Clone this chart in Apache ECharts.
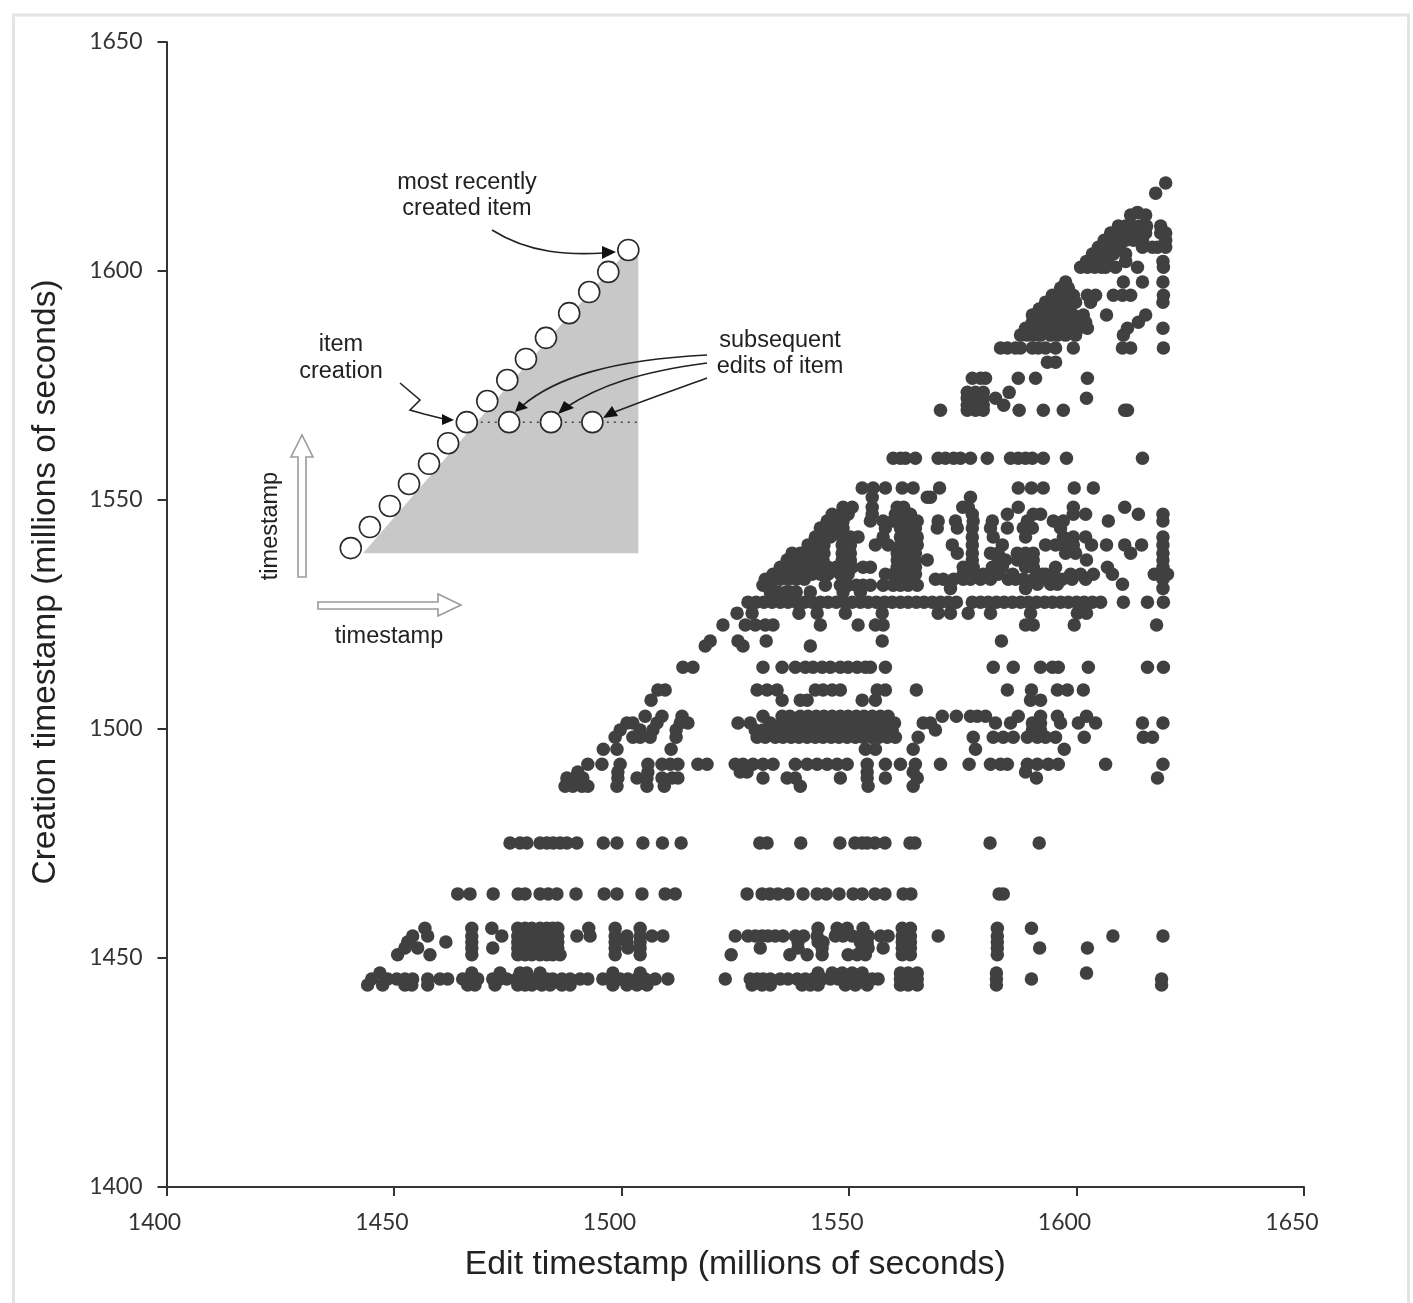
<!DOCTYPE html>
<html><head><meta charset="utf-8">
<style>html,body{margin:0;padding:0;background:#fff}#c{width:1413px;height:1303px}</style>
<script src="https://cdn.jsdelivr.net/npm/echarts@6/dist/echarts.min.js"></script>
</head><body><div id="c"></div>
<script>
const axisTicks = [1400,1450,1500,1550,1600,1650];
const xTitle = 'Edit timestamp (millions of seconds)';
const yTitle = 'Creation timestamp (millions of seconds)';

// Creation level of each row, and the edit timestamps seen at that level.
const creationLevels = [1475.1,1464,1456.5,1454.8,1453.5,1452.2,1450.7,1446.7,1445.4,1444.1,
 1513.5,1508.5,1506.3,1502.8,1501.3,1499.8,1498.2,1495.6,1492.3,1490.6,1489.3,1487.5,
 1527.7,1525.3,1522.7,1519.2,1518.1,1552.6,1550.6,1548.4,1546.9,1545.4,1543.9,1541.9,1540.2,1538.4,1536.9,1535.3,1533.8,1532.7,1531.6,1531.4,1530.7,1529.9,1559.1,
 1619.2,1617,1612.8,1612.2,1609.8,1608.3,1606.7,1605.2,1603.7,1602.1,1600.8,1597.6,1596.3,1594.7,1593.2,1591.7,1590.4,1588.8,1587.5,1586,1583.2,1580.1,1576.6,1573.5,1572.2,1570.7,1569.6];
const e1475=[1475.5,1477.7,1479.2,1482.1,1483.6,1485,1486.5,1488,1490.2,1496,1499,1504.7,1509,1513.1,1530.4,1532,1539.4,1548,1551.3,1552.9,1554,1555.7,1557.9,1563.4,1564.5,1581,1591.8];
const e1464=[1464,1466.7,1471.8,1477.3,1478.8,1482.1,1483.9,1485.8,1490,1496.2,1499,1504.5,1509.6,1511.8,1527.6,1530.9,1532.6,1534.4,1536.6,1539.9,1543,1545,1547.8,1550.9,1552.9,1555.7,1557.9,1561.9,1563.6,1583,1583.9];
const e1456=[1456.8,1467.1,1471.5,1477.2,1478.8,1480.3,1482.1,1483.6,1484.9,1486,1492.8,1498.6,1504.1,1543.2,1547.4,1549.6,1553.1,1561.7,1563.5,1582.6,1590.1];
const e1454=[1457.4,1454.1,1467.1,1473.7,1477.2,1478.8,1480.3,1482.1,1483.6,1484.9,1486,1490.2,1493.1,1498.6,1501.2,1504.1,1506.7,1509.1,1525,1527.8,1529.4,1530.9,1532.2,1533.8,1535.5,1538.2,1540,1543,1547,1548.7,1550.7,1552.5,1554.2,1556.9,1558.6,1561.7,1563.5,1569.6,1582.6,1608,1619];
const e1453=[1453,1461.4,1467.1,1477.2,1478.8,1480.3,1482.1,1483.6,1484.9,1486,1498.6,1501.2,1504.1,1538.8,1543.2,1544.3,1552.5,1554,1561.7,1563.5,1582.6];
const e1452=[1455.2,1452.4,1467.1,1471.7,1477.2,1478.8,1480.3,1482.1,1483.6,1484.9,1486,1498.6,1501.4,1504.1,1530.5,1538.8,1544.1,1552.9,1554.2,1557.5,1561.7,1563.5,1582.6,1591.9,1602.4];
const e1450=[1450.8,1457.9,1467.1,1477.2,1478.8,1480.3,1482.1,1483.6,1484.9,1486.5,1498.6,1504.1,1524.1,1537,1540.8,1544.1,1549.8,1551.8,1553.6,1561.7,1563.5,1582.6];
const e1446=[1446.9,1467.1,1473.3,1477.7,1479.2,1482.1,1498.1,1504.1,1543.2,1546.3,1548.5,1550.7,1552.9,1561.3,1563,1565,1582.4,1602.2];
const e1445=[1445.1,1448.6,1450.6,1452.4,1454.1,1457.4,1460.1,1461.8,1465.1,1467.1,1468.4,1471.7,1473.3,1474.8,1477,1478.3,1479.9,1481.6,1483.6,1484.9,1486.9,1488.7,1490.9,1492.6,1495.9,1497.9,1499.7,1501.4,1503.4,1505.2,1507.4,1510.2,1522.8,1528.3,1529.8,1531.1,1532.7,1534.9,1536.6,1538.6,1540.4,1542.1,1544.1,1545.9,1547.6,1549.6,1551.4,1553.1,1555.1,1556.4,1561.3,1563,1565,1582.4,1590.1,1618.7];
const e1444=[1444.2,1447.5,1452.4,1453.9,1457.4,1466.2,1467.8,1472.2,1477.2,1478.8,1480.3,1482.5,1484.3,1486.9,1488.7,1498.1,1501.2,1503.4,1505.6,1528.7,1530.9,1532.7,1539.7,1541.5,1543.2,1549.2,1551.4,1554,1561.3,1563,1565,1582.4,1618.7];
const e1513=[1513.5,1515.7,1531.1,1535.3,1538.2,1540.4,1542.1,1544.1,1545.9,1548.1,1549.8,1551.8,1553.6,1554.7,1558,1581.7,1586.1,1592.1,1594.7,1596,1602.6,1615.6,1619.1];
const e1508=[1508,1509.6,1529.8,1532,1534.2,1542.6,1544.3,1546.3,1548.1,1556.2,1558,1564.8,1584.8,1590.1,1595.8,1598,1601.5];
const e1506=[1506.5,1535.3,1539.3,1540.8,1552.9,1555.8,1589.9,1592.1];
const e1502=[1505.2,1508.9,1513.3,1531.1,1535.3,1537,1539.3,1541,1542.8,1544.5,1546.3,1548.1,1549.8,1551.6,1553.3,1555.1,1556.9,1558.6,1570.5,1573.6,1576.7,1578.2,1580,1587.2,1592.1,1595.8,1602.2];
const e1501=[1501.2,1502.5,1507.8,1512.9,1514.6,1525.6,1528.3,1532.7,1535.3,1537,1538.8,1540.6,1542.3,1544.1,1545.9,1547.6,1549.4,1551.1,1552.9,1554.7,1556.4,1558.2,1560,1566.3,1567.9,1582.2,1585.5,1590.3,1592.1,1596.5,1600.4,1604.2,1614.5,1619];
const e1499=[1499.7,1504.1,1506.9,1512,1529.4,1531.1,1533.1,1534.9,1536.6,1538.4,1540.2,1541.9,1543.7,1545.4,1547.2,1549,1550.7,1552.5,1554.2,1556,1557.8,1559.5,1569,1590.3,1592.1];
const e1498=[1498.6,1502.5,1504.1,1506.3,1512,1529.8,1531.6,1533.8,1535.5,1537.3,1539,1540.8,1542.6,1544.3,1546.1,1547.8,1549.6,1551.4,1553.1,1554.9,1556.6,1558.4,1560.2,1565.2,1577.3,1581.7,1583.9,1586.1,1589.2,1591.4,1593.2,1595.4,1601.7,1614.7,1616.7];
const e1495=[1496,1499,1510.9,1553.6,1555.8,1564.1,1577.8,1597.3];
const e1492=[1492.6,1495.7,1499.7,1505.8,1508.9,1510.7,1512.4,1516.8,1518.8,1525,1526.7,1528.9,1531.1,1533.3,1538.2,1540.8,1543,1545.2,1547.4,1549.6,1554,1558,1561.3,1564.6,1570.1,1576.4,1581.1,1583.3,1584.8,1589.2,1591.4,1593.8,1596,1606.4,1619];
const e1490=[1490.4,1499.2,1505.8,1526.1,1527.6,1554,1564.1,1588.8];
const e1489=[1488,1489.8,1491.5,1499.2,1503.4,1505.6,1508.9,1511.1,1512.4,1531.1,1536.4,1538.2,1548.1,1554,1558,1565,1591.2,1617.8];
const e1487=[1487.6,1489.3,1491.3,1492.6,1499,1505.6,1509.4,1539.3,1554.2,1564.1];
const e1527=[1527.8,1529.6,1531.3,1533.1,1534.9,1536.6,1538.4,1540.2,1541.9,1543.7,1545.4,1547.2,1549,1550.7,1552.5,1554.2,1556,1557.8,1559.5,1561.3,1563,1564.8,1566.5,1568.3,1570.1,1571.8,1573.6,1577.1,1578.9,1580.6,1582.4,1584.1,1585.9,1587.7,1589.4,1591.2,1593,1594.7,1596.5,1598.2,1600,1601.7,1603.5,1605.3,1610.3,1615.6,1619.1];
const e1525=[1525.4,1528.7,1539,1543,1549.2,1557.3,1569.6,1572.3,1576.2,1581.1,1589.9,1600.2,1602.2];
const e1522=[1522.3,1527.2,1529.4,1531.6,1533.3,1543.7,1552,1555.8,1557.5,1588.8,1590.5,1599.5,1617.6];
const e1519=[1519.5,1525.6,1531.8,1557.3,1583.5];
const e1518=[1518.4,1526.7,1541.5];
const e1552=[1552.9,1555.3,1558,1561.7,1564.1,1569.9,1587.2,1590.1,1592.7,1599.5,1603.7];
const e1550=[1555.1,1567.2,1567.9,1576.7];
const e1548=[1548.7,1550.7,1555.1,1560.6,1562,1575,1576.2,1587.2,1599.3,1610.6];
const e1546=[1546.3,1548.1,1549.8,1555.1,1560.2,1562,1563.5,1577.1,1584.8,1590.5,1592.1,1599.3,1602,1613.6,1619];
const e1545=[1545.2,1547,1548.7,1554.7,1557.5,1559.7,1561.3,1563,1565,1569.6,1573.4,1577.3,1581.5,1589.2,1594.9,1597.1,1607,1619];
const e1543=[1543.7,1545.4,1547.2,1548.7,1558,1561.3,1563,1564.6,1569.4,1573.8,1577.1,1581.1,1584.8,1588.3,1590.3,1596.5];
const e1541=[1542.6,1544.1,1545.9,1548.5,1550.3,1552,1557.5,1561.3,1563,1565,1577.1,1581.7,1588.8,1597.1,1599.3,1602,1619];
const e1540=[1541,1542.8,1544.5,1548.5,1550.3,1555.8,1558.6,1561.3,1563,1565,1572.7,1577.1,1583.7,1619,1593.2,1595.4,1597.1,1599.3,1603.3,1606.6,1610.6,1614.3];
const e1538=[1537.5,1539.3,1541,1542.8,1544.5,1548.5,1550.3,1560.6,1562.4,1564.6,1573.8,1577.1,1581.1,1582.8,1587,1588.8,1590.5,1597.6,1599.8,1611.9,1619];
const e1536=[1536.4,1537.9,1539.3,1541,1542.6,1544.3,1548.5,1550.3,1560.6,1562.4,1564.6,1567.2,1577.1,1582.8,1584.4,1587,1588.8,1590.5,1602.2,1619];
const e1535=[1534.9,1536.6,1538.4,1540.2,1541.9,1543.7,1545.4,1547.2,1549.2,1550.7,1553.1,1554.7,1560.6,1562.4,1564.6,1575.1,1577.3,1581.5,1583.7,1588.8,1590.5,1595.4,1606.8,1619];
const e1533=[1533.3,1534.9,1536.6,1538.4,1540.2,1541.9,1543.7,1545.4,1548.1,1549.8,1558,1559.7,1561.3,1563,1564.6,1575.1,1577.1,1579.5,1581.5,1582.8,1586,1592.5,1593.2,1595,1598.7,1600.9,1603.7,1607.9,1617.1,1620];
const e1532=[1531.6,1533.1,1534.9,1536.6,1538.4,1540.2,1569,1570.7,1573,1575.1,1576.7,1578.9,1581.1,1585,1586.6,1588.3,1590.5,1592.1,1596.9,1599,1602,1619];
const e1531b=[1591.4,1594.3,1595.8,1610.1];
const e1531=[1531.1,1532.7,1544.8,1548.1,1549.8,1551.6,1553.1,1554.7,1557.5,1559.7,1561.3,1563,1565];
const e1530=[1572.3,1588.8,1619];
const e1529=[1532.7,1534.4,1536.2,1537.1,1538.4,1541.5,1548.7,1552.5];
const e1559=[1559.7,1561.3,1562.4,1564.6,1569.6,1571.2,1573,1574.5,1576.7,1580.4,1585.5,1587.2,1588.8,1590.3,1592.7,1597.8,1614.5];
const e1619=[1619.6];
const e1617=[1617.4];
const e1612b=[1613.4];
const e1612=[1611.9,1615.2];
const e1609=[1609.2,1610.8,1612.3,1613.8,1615.4,1618.5];
const e1608=[1607.5,1609,1610.5,1612.1,1613.6,1615.2,1618.5,1619.6];
const e1606=[1606.1,1607.7,1609.2,1610.8,1612.5,1614.5,1619.6];
const e1605=[1604.8,1606.4,1607.9,1609.4,1614.5,1616.7,1617.8,1619.6];
const e1603=[1603.5,1605,1606.6,1608.1,1610.8];
const e1602=[1602.2,1603.7,1605.3,1606.8,1610.8,1619];
const e1600=[1600.9,1602.4,1604,1605.5,1606.4,1608.6,1613.4,1619.1];
const e1597=[1597.6,1610.3,1614.5,1619];
const e1596=[1596.5,1598.2];
const e1594=[1594.7,1596.2,1597.8,1599.3,1602.4,1604.2,1608.1,1610.1,1611.9,1619.1];
const e1593=[1593.2,1594.7,1596.5,1598.2,1599.8,1603.1,1619];
const e1591=[1591.8,1593.9,1595.4,1596.9,1598.4];
const e1590=[1590.3,1592.1,1593.8,1595.4,1596.9,1599.3,1601.5,1606.6,1615.2];
const e1588=[1590.3,1592.1,1593.8,1595.8,1598.7,1600.4,1602,1613.6];
const e1587=[1588.8,1590.5,1592.1,1593.8,1595.8,1597.2,1598.7,1600.5,1602.4,1611.2,1619];
const e1586=[1587.7,1589.2,1590.5,1592.1,1594.3,1595.8,1597.6,1599.8,1610.3];
const e1583=[1583.3,1584.8,1586.6,1587.7,1590.3,1591.6,1593.2,1595.4,1599.3,1610.1,1611.9,1619.1];
const e1580=[1593.6,1595.4];
const e1576=[1577.1,1578.9,1580,1587.2,1591,1602.4];
const e1573=[1576,1577.8,1579.5,1585.2];
const e1572=[1576,1577.8,1579.5,1582.2,1602.2];
const e1570=[1576,1577.8,1579.5,1584];
const e1569=[1570.1,1576,1577.8,1579.5,1587.4,1592.7,1597.1,1610.6,1611.2];
const editRows=[e1475,e1464,e1456,e1454,e1453,e1452,e1450,e1446,e1445,e1444,
 e1513,e1508,e1506,e1502,e1501,e1499,e1498,e1495,e1492,e1490,e1489,e1487,
 e1527,e1525,e1522,e1519,e1518,e1552,e1550,e1548,e1546,e1545,e1543,e1541,e1540,e1538,e1536,e1535,e1533,e1532,e1531b,e1531,e1530,e1529,e1559,
 e1619,e1617,e1612b,e1612,e1609,e1608,e1606,e1605,e1603,e1602,e1600,e1597,e1596,e1594,e1593,e1591,e1590,e1588,e1587,e1586,e1583,e1580,e1576,e1573,e1572,e1570,e1569];

// Inset schematic, in the chart's own units.
const insetDiagX=[1440.5,1444.7,1449.1,1453.3,1457.7,1461.9,1466,1470.5,1474.9,1479,1483.4,1488.5,1492.9,1497.1,1501.5];
const insetDiagY=[1539.5,1544.1,1548.7,1553.5,1557.9,1562.4,1567,1571.6,1576.2,1580.8,1585.4,1590.8,1595.4,1599.8,1604.6];
const insetEditX=[1475.3,1484.5,1493.6];
const insetEditY=[1567,1567,1567];
const insetShadeX=[1443.2,1466.7,1487,1501.5,1503.7,1503.7];
const insetShadeY=[1538.4,1565.3,1588.6,1604.6,1603,1538.4];
const insetDottedX=[1466,1503.7];
const insetDottedY=[1567,1567];

const pts=[];
creationLevels.forEach((y,i)=>editRows[i].forEach(x=>pts.push([x,y])));
const zip=(a,b)=>a.map((v,i)=>[v,b[i]]);

const INK='#333';
const arrowStyle={stroke:'#222',lineWidth:1.6,fill:null};
const label=(t,x,y,rot)=>({type:'text',x,y,rotation:rot||0,z:30,style:{text:t,x:0,y:0,fill:'#222',font:'23.5px "Liberation Sans"',align:'center',verticalAlign:'middle'}});
const curve=(x1,y1,c1x,c1y,c2x,c2y,x2,y2)=>({type:'bezierCurve',z:30,shape:{x1,y1,cpx1:c1x,cpy1:c1y,cpx2:c2x,cpy2:c2y,x2,y2},style:arrowStyle});
const head=(pts)=>({type:'polygon',z:30,shape:{points:pts},style:{fill:'#111'}});
const hollow=(pts)=>({type:'polygon',z:30,shape:{points:pts},style:{fill:'#fff',stroke:'#9a9a9a',lineWidth:1.6}});

const chart=echarts.init(document.getElementById('c'),null,{renderer:'canvas'});
chart.setOption({
 animation:false,
 backgroundColor:'#fff',
 grid:{left:166.5,right:109,top:42,bottom:116,containLabel:false},
 xAxis:{type:'value',min:axisTicks[0],max:axisTicks[5],interval:50,
  name:xTitle,nameLocation:'middle',nameGap:61,
  nameTextStyle:{fontFamily:'Liberation Sans',fontSize:33.8,color:'#222'},
  axisLine:{onZero:false,lineStyle:{color:INK,width:2}},
  axisTick:{length:9,lineStyle:{color:INK,width:2}},
  axisLabel:{fontFamily:'Lato',fontSize:23,color:'#333',margin:24,padding:[0,24,0,0],showMinLabel:true,showMaxLabel:true,formatter:v=>String(v)},
  splitLine:{show:false}},
 yAxis:{type:'value',min:axisTicks[0],max:axisTicks[5],interval:50,
  name:yTitle,nameLocation:'middle',nameGap:104,
  nameTextStyle:{fontFamily:'Liberation Sans',fontSize:33.5,color:'#222',padding:[0,0,0,65]},
  axisLine:{onZero:false,lineStyle:{color:INK,width:2}},
  axisTick:{length:9,lineStyle:{color:INK,width:2}},
  axisLabel:{fontFamily:'Lato',fontSize:23,color:'#333',margin:24,showMinLabel:true,showMaxLabel:true,formatter:v=>String(v)},
  splitLine:{show:false}},
 graphic:[
  {type:'rect',z:-10,shape:{x:13.5,y:15,width:1395,height:1300},style:{fill:null,stroke:'#e4e4e4',lineWidth:3}},
  label('most recently',467,183),label('created item',467,209),
  label('item',341,345),label('creation',341,372),
  label('subsequent',780,341),label('edits of item',780,367),
  label('timestamp',271,526,Math.PI/2),label('timestamp',389,637),
  curve(492,230,530,254,570,255,604,253),head([[616,252],[602,246],[602,259]]),
  {type:'polyline',z:30,smooth:0.25,shape:{points:[[400,383],[420,400],[410,410],[424,414],[444,419]]},style:arrowStyle},
  head([[454,420],[442,414],[442,425]]),
  curve(707,355,610,360,555,378,522,406),head([[515,412],[519,401],[528,408]]),
  curve(707,363,640,372,600,385,565,408),head([[558,414],[564,401],[574,408]]),
  curve(707,378,680,388,650,398,612,413),head([[603,418],[612,406],[618,416]]),
  hollow([[298,577],[306,577],[306,457],[313,457],[302,435],[291,457],[298,457]]),
  hollow([[318,602],[438,602],[438,594],[461,605],[438,616],[438,609],[318,609]])
 ],
 series:[
  {type:'custom',z:1,silent:true,coordinateSystem:'cartesian2d',data:[[0]],encode:{x:0,y:0},clip:false,
   renderItem:(p,api)=>({type:'polygon',shape:{points:zip(insetShadeX,insetShadeY).map(c=>api.coord(c))},style:{fill:'#c8c8c8'}})},
  {type:'line',z:2,silent:true,data:zip(insetDottedX,insetDottedY),symbol:'none',lineStyle:{color:'#444',width:1.5,type:[2,5]}},
  {type:'scatter',z:3,silent:true,data:zip(insetDiagX,insetDiagY).concat(zip(insetEditX,insetEditY)),symbol:'circle',symbolSize:21,itemStyle:{color:'#fff',borderColor:'#2a2a2a',borderWidth:1.6,opacity:1}},
  {type:'scatter',z:4,silent:true,large:false,data:pts,symbol:'circle',symbolSize:13.5,itemStyle:{color:'#404040',opacity:1}}
 ]
});
</script></body></html>
